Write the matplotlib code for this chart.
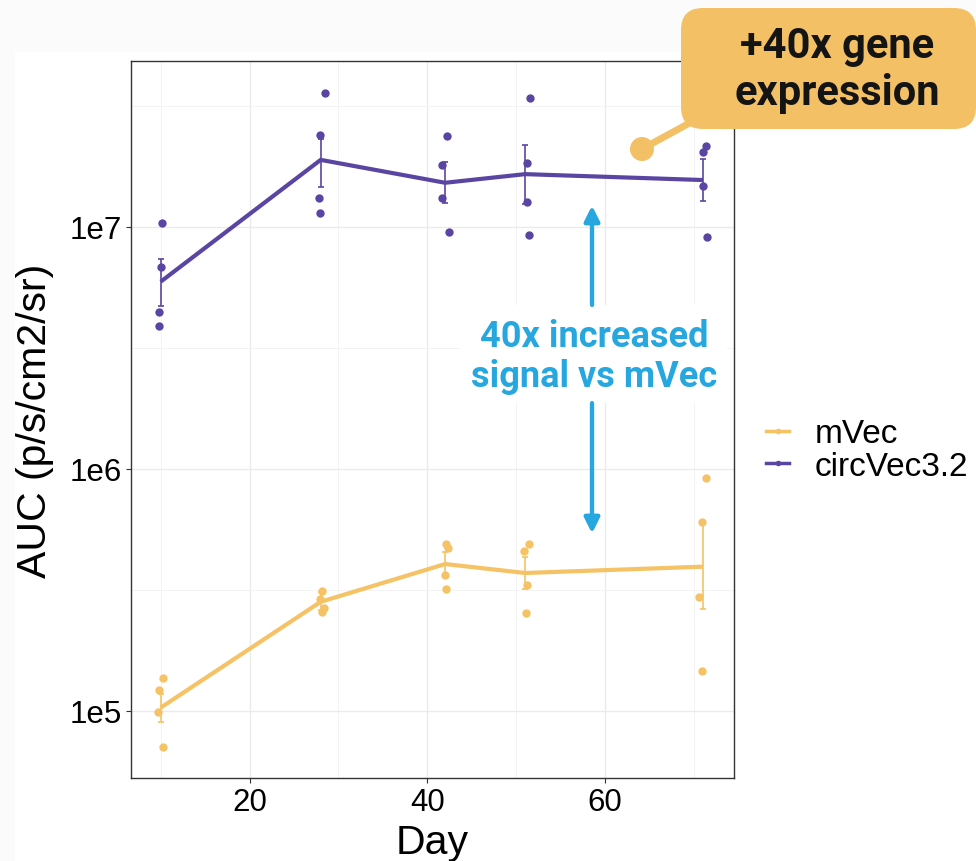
import matplotlib.pyplot as plt
from matplotlib.lines import Line2D
from matplotlib.patches import FancyBboxPatch, Rectangle, Circle
from matplotlib.transforms import IdentityTransform

# Mean per timepoint and error bar ends
days = [10, 28, 42, 51, 71]

mvec_mean = [1.03e5, 2.82e5, 4.04e5, 3.71e5, 3.94e5]
mvec_lo = [9.0e4, 2.60e5, 3.67e5, 3.18e5, 2.63e5]
mvec_hi = [1.17e5, 3.10e5, 4.52e5, 4.31e5, 6.04e5]

circ_mean = [5.93e6, 1.89e7, 1.52e7, 1.65e7, 1.56e7]
circ_lo = [4.72e6, 1.455e7, 1.25e7, 1.24e7, 1.28e7]
circ_hi = [7.35e6, 2.30e7, 1.845e7, 2.18e7, 1.90e7]

# individual animals (jittered days as seen in the picture)
mvec_pt_day = [10.25, 9.8, 9.67, 10.3, 28.1, 27.9, 28.4, 28.1, 42.1, 42.3, 42.0, 42.1,
               51.4, 50.9, 51.2, 51.1, 71.4, 70.95, 70.6, 70.95]
mvec_pt_val = [1.36e5, 1.22e5, 9.85e4, 7.08e4, 3.13e5, 2.90e5, 2.65e5, 2.55e5,
               4.88e5, 4.69e5, 3.65e5, 3.18e5, 4.89e5, 4.56e5, 3.32e5, 2.54e5,
               9.19e5, 6.04e5, 2.96e5, 1.46e5]

circ_pt_day = [10.1, 10.07, 9.77, 9.77, 28.5, 27.9, 27.8, 27.9, 42.2, 41.6, 41.6, 42.4,
               51.5, 51.2, 51.2, 51.4, 71.4, 71.0, 70.97, 71.5]
circ_pt_val = [1.04e7, 6.8e6, 4.43e6, 3.9e6, 3.57e7, 2.39e7, 1.32e7, 1.14e7,
               2.38e7, 1.80e7, 1.32e7, 9.5e6, 3.40e7, 1.83e7, 1.26e7, 9.25e6,
               2.16e7, 2.04e7, 1.48e7, 9.1e6]

groups = ['mVec', 'circVec3.2']
col_mvec = '#f5c265'
col_circ = '#5b45a2'
col_blue = '#27a7df'
col_call = '#f3c066'

W, H = 976, 862
fig = plt.figure(figsize=(W / 100, H / 100), dpi=100)
fig.patch.set_facecolor('white')

def px(x, y):
    # picture pixels (top-left origin) -> display coords
    return x, H - y

# faint slide border
fig.patches.append(Rectangle((0, H - 53), W, 53, transform=IdentityTransform(),
                             facecolor='#fbfbfb', edgecolor='none', zorder=0))
fig.patches.append(Rectangle((0, 0), 15, H, transform=IdentityTransform(),
                             facecolor='#fbfbfb', edgecolor='none', zorder=0))

ax = fig.add_axes([131 / W, 1 - 779.3 / H, (734 - 131) / W, (779.3 - 62) / H])
ax.set_yscale('log')

for d, m, lo, hi, pd_, pv, c in [(days, mvec_mean, mvec_lo, mvec_hi, mvec_pt_day, mvec_pt_val, col_mvec),
                                  (days, circ_mean, circ_lo, circ_hi, circ_pt_day, circ_pt_val, col_circ)]:
    ax.plot(pd_, pv, 'o', color=c, ms=6, mec='none', zorder=3)
    ax.plot(d, m, '-', color=c, lw=3, solid_capstyle='butt', zorder=4)
    yerr = [[mm - l for mm, l in zip(m, lo)], [h - mm for mm, h in zip(m, hi)]]
    ax.errorbar(d, m, yerr=yerr, fmt='none', ecolor=c, elinewidth=1.2, capsize=2.5,
                capthick=1.2, zorder=4)

ax.set_xticks([20, 40, 60])
ax.set_xticks([10, 30, 50, 70], minor=True)
ax.set_yticks([1e5, 1e6, 1e7])
ax.set_yticklabels(['1e5', '1e6', '1e7'])
ax.set_yticks([10 ** 5.5, 10 ** 6.5, 10 ** 7.5], minor=True)
ax.yaxis.set_minor_formatter(plt.NullFormatter())
ax.set_xlim(6.66, 74.5)
ax.set_ylim(10 ** 4.721, 10 ** 7.685)

ax.grid(which='major', color='#ebebeb', lw=1.0)
ax.grid(which='minor', color='#f3f3f3', lw=0.7)
ax.set_axisbelow(True)
for s in ax.spines.values():
    s.set_color('#333333')
    s.set_linewidth(1.0)
ax.tick_params(which='major', length=3.5, width=0.8, color='#333333', pad=3,
               labelsize=22.5, labelcolor='black')
ax.tick_params(which='minor', length=0)
for lab in ax.get_xticklabels() + ax.get_yticklabels():
    lab.set_fontfamily('Liberation Sans')

ax.set_xlabel('Day', fontsize=29.5, family='Liberation Sans')
ax.set_ylabel('AUC (p/s/cm2/sr)', fontsize=29.5, family='Liberation Sans')
ax.xaxis.set_label_coords(0.5, -0.062)
ax.yaxis.set_label_coords(-0.128, 0.5)

# legend
handles = [Line2D([], [], color=col_mvec, lw=2.5, marker='o', ms=4, mec='none'),
           Line2D([], [], color=col_circ, lw=2.5, marker='o', ms=4, mec='none')]
fig.legend(handles, groups, loc='center left', bbox_to_anchor=(766 / W, 1 - 451 / H),
           frameon=False, borderpad=0, borderaxespad=0, handlelength=0.7,
           handletextpad=0.75, labelspacing=0.05,
           prop={'family': 'Liberation Sans', 'size': 24})

# blue annotation in the middle
fig.patches.append(Rectangle(px(460, 404), 267, 98, transform=IdentityTransform(),
                             facecolor='white', edgecolor='none', zorder=2))
arrow_kw = dict(arrowstyle='-|>,head_length=0.9,head_width=0.45', color=col_blue, lw=3,
                shrinkA=0, shrinkB=0)
fig.add_artist(plt.annotate('', xy=px(592, 207), xytext=px(592, 306),
                            xycoords='figure pixels', textcoords='figure pixels',
                            arrowprops=arrow_kw))
fig.add_artist(plt.annotate('', xy=px(592, 534), xytext=px(592, 404),
                            xycoords='figure pixels', textcoords='figure pixels',
                            arrowprops=arrow_kw))
fig.text(594 / W, 1 - 357 / H, '40x increased\nsignal vs mVec', ha='center', va='center',
         color=col_blue, fontsize=26, family='Roboto', weight='bold', linespacing=1.15,
         zorder=5)

# orange callout at the top right
fig.patches.append(FancyBboxPatch(px(681, 130), 295, 121,
                                  boxstyle='round,pad=0,rounding_size=22',
                                  transform=IdentityTransform(), facecolor=col_call,
                                  edgecolor='none', zorder=4))
fig.add_artist(Line2D([642, 695], [H - 150, H - 121], transform=IdentityTransform(),
                      color=col_call, lw=5, zorder=4))
fig.patches.append(Circle(px(642, 150), 12, transform=IdentityTransform(),
                          facecolor=col_call, edgecolor='none', zorder=4))
fig.text(837 / W, 1 - 70 / H, '+40x gene\nexpression', ha='center', va='center',
         color='#141414', fontsize=30, family='Roboto', weight='bold', linespacing=1.2,
         zorder=5)

plt.savefig('out.png', dpi=100)
